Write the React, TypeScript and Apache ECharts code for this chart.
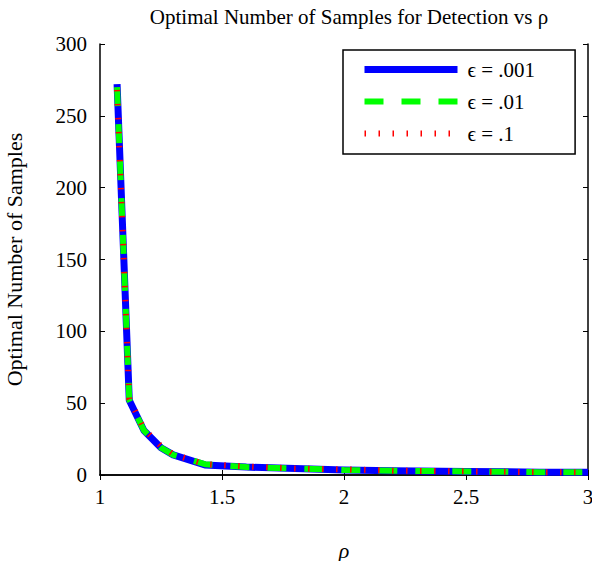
import React, { useEffect, useRef } from "react";
import * as echarts from "echarts";

const rho = [1.07, 1.12, 1.18, 1.25, 1.3, 1.43, 1.6, 1.8, 2.0, 2.2, 2.5, 2.8, 3.0];
const eps001 = [272, 52, 31, 19, 14, 7, 5.5, 4.5, 3.5, 3, 2.5, 2, 2];
const eps01 = [270, 52, 31, 19, 14, 7.5, 5.5, 4.5, 3.5, 3, 2.5, 2, 2];
const eps1 = [268, 53, 32, 20, 14.5, 7.5, 6, 4.5, 4, 3, 2.5, 2, 2];
const seriesNames = ["ϵ = .001", "ϵ = .01", "ϵ = .1"];
const xTicks = [1, 1.5, 2, 2.5, 3];
const yTicks = [0, 50, 100, 150, 200, 250, 300];

const FONT = "'Liberation Serif', 'DejaVu Serif', serif";

const lineStyles = [
  { color: "#0000ff", width: 7, type: "solid", join: "round" },
  { color: "#00ff00", width: 6, type: [19, 18], cap: "butt" },
  { color: "#ff0000", width: 6, type: [1.5, 12.5], cap: "butt" },
];

export default function App() {
  const ref = useRef<HTMLDivElement>(null);
  useEffect(() => {
    const chart = echarts.init(ref.current!, null, { renderer: "svg" });
    const mk = (ys: number[]) => rho.map((r, i) => [r, ys[i]]);
    const axisLine = { show: true, lineStyle: { color: "#000", width: 1.5 } };
    const tick = { show: true, inside: true, length: 5, lineStyle: { color: "#000", width: 1 } };
    chart.setOption({
      animation: false,
      backgroundColor: "#fff",
      title: {
        text: "Optimal Number of Samples for Detection vs ρ",
        left: 344,
        top: 1,
        textAlign: "center",
        textStyle: { fontFamily: FONT, fontSize: 21, fontWeight: "normal", color: "#000" },
      },
      grid: { left: 100, right: 4, top: 44, bottom: 86, outerBoundsMode: "none", containLabel: false },
      legend: {
        orient: "vertical",
        left: 343,
        top: 50,
        padding: [9, 40, 10, 18],
        itemWidth: 93,
        itemHeight: 12,
        itemGap: 11,
        backgroundColor: "#fff",
        borderColor: "#000",
        borderWidth: 1.5,
        borderRadius: 0,
        itemStyle: { opacity: 0 },
        textStyle: { fontFamily: FONT, fontSize: 21, color: "#000", padding: [0, 0, 0, 5] },
        data: seriesNames.map((n, i) => ({
          name: n,
          lineStyle: lineStyles[i],
          itemStyle: { opacity: 0, borderWidth: 0, color: "transparent" },
        })),
      },
      xAxis: [
        {
          type: "value",
          min: 1,
          max: 3,
          interval: 0.5,
          name: "ρ",
          nameLocation: "middle",
          nameGap: 64,
          nameTextStyle: { fontFamily: FONT, fontSize: 22, color: "#000", fontStyle: "italic" },
          axisLine,
          axisTick: tick,
          axisLabel: {
            fontFamily: FONT,
            fontSize: 21,
            color: "#000",
            margin: 11,
            customValues: xTicks,
            formatter: (v: number) => String(v),
          },
          splitLine: { show: false },
        },
        {
          type: "value",
          position: "top",
          min: 1,
          max: 3,
          interval: 0.5,
          axisLine,
          axisTick: tick,
          axisLabel: { show: false },
          splitLine: { show: false },
        },
      ],
      yAxis: [
        {
          type: "value",
          min: 0,
          max: 300,
          interval: 50,
          name: "Optimal Number of Samples",
          nameLocation: "middle",
          nameGap: 75,
          nameTextStyle: { fontFamily: FONT, fontSize: 22, color: "#000" },
          axisLine,
          axisTick: tick,
          axisLabel: {
            fontFamily: FONT,
            fontSize: 21,
            color: "#000",
            margin: 13,
            customValues: yTicks,
          },
          splitLine: { show: false },
        },
        {
          type: "value",
          position: "right",
          min: 0,
          max: 300,
          interval: 50,
          axisLine,
          axisTick: tick,
          axisLabel: { show: false },
          splitLine: { show: false },
        },
      ],
      series: [
        {
          name: seriesNames[0],
          type: "line",
          data: mk(eps001),
          showSymbol: false,
          symbol: "none",
          z: 2,
          lineStyle: lineStyles[0],
          itemStyle: { color: "#0000ff" },
        },
        {
          name: seriesNames[1],
          type: "line",
          data: mk(eps01),
          showSymbol: false,
          symbol: "none",
          z: 3,
          lineStyle: lineStyles[1],
          itemStyle: { color: "#00ff00" },
        },
        {
          name: seriesNames[2],
          type: "line",
          data: mk(eps1),
          showSymbol: false,
          symbol: "none",
          z: 4,
          lineStyle: lineStyles[2],
          itemStyle: { color: "#ff0000" },
        },
      ],
    });
    return () => chart.dispose();
  }, []);
  return (
    <div
      ref={ref}
      style={{ position: "absolute", left: 0, top: 0, width: 592, height: 561 }}
    />
  );
}
